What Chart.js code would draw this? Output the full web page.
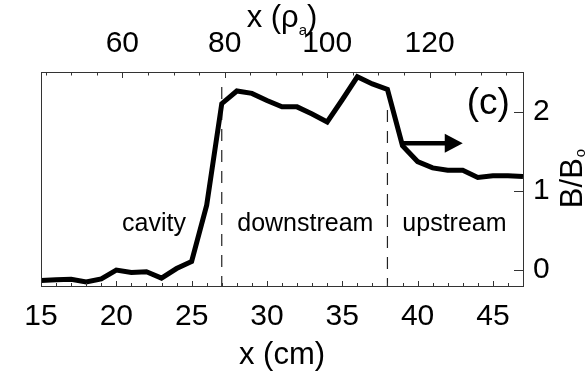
<!DOCTYPE html>
<html>
<head>
<meta charset="utf-8">
<script src="https://cdn.jsdelivr.net/npm/chart.js@4.4.1/dist/chart.umd.min.js"></script>
<style>
  html, body { margin: 0; padding: 0; background: #fff; }
  #wrap { width: 588px; height: 372px; }
</style>
</head>
<body>
<div id="wrap"><canvas id="fieldChart" width="588" height="372"></canvas></div>
<script>
// Position along the device (cm) and normalised field B/B0
const xCm = [15, 16, 17, 18, 19, 20, 21, 22, 23, 24, 25, 26, 27, 28, 29, 30, 31,
             32, 33, 34, 35, 36, 37, 38, 39, 40, 41, 42, 43, 44, 45, 46, 47];
const bRatio = [-0.13, -0.12, -0.115, -0.15, -0.11, 0.0, -0.03, -0.02, -0.1, 0.02, 0.11,
                0.82, 2.10, 2.26, 2.23, 2.14, 2.06, 2.06, 1.97, 1.87, 2.15, 2.44, 2.35,
                2.28, 1.57, 1.37, 1.29, 1.26, 1.26, 1.17, 1.19, 1.19, 1.18];

// Region boundaries (cm) and where each dashed divider starts (B/B0)
const boundaryX = [27, 38];
const boundaryTop = [2.31, 2.02];

// Region names with their label positions (cm, B/B0 baseline)
const regionNames = ['cavity', 'downstream', 'upstream'];
const regionLabelX = [22.5, 32.55, 42.45];
const regionLabelY = 0.49;

// Propagation arrow (cm) at a fixed B/B0
const arrowX = [39, 43];
const arrowY = 1.6;

// Ion gyroradius in cm, used for the upper axis
const rhoA = 0.34;
const xMin = 15, xMax = 47;
const yMin = -0.2, yMax = 2.5;

const FONT = 'Liberation Sans, Arial, Helvetica, sans-serif';
const frameColor = '#333';

// Frame, inward ticks and the extra text on the plot
const decorations = {
    id: 'decorations',
    afterDatasetsDraw(chart) {
        const { ctx, chartArea: a, scales } = chart;
        ctx.save();

        // arrow
        const ax0 = scales.x.getPixelForValue(arrowX[0]);
        const ax1 = scales.x.getPixelForValue(arrowX[1]);
        const ay = scales.y.getPixelForValue(arrowY);
        const head = 18;
        ctx.strokeStyle = '#000';
        ctx.lineWidth = 4.5;
        ctx.beginPath();
        ctx.moveTo(ax0, ay);
        ctx.lineTo(ax1 - head + 2, ay);
        ctx.stroke();
        ctx.fillStyle = '#000';
        ctx.beginPath();
        ctx.moveTo(ax1, ay);
        ctx.lineTo(ax1 - head, ay - 9.5);
        ctx.lineTo(ax1 - head, ay + 9.5);
        ctx.closePath();
        ctx.fill();

        // frame
        ctx.strokeStyle = frameColor;
        ctx.lineWidth = 1;
        ctx.strokeRect(Math.round(a.left) + 0.5, Math.round(a.top) + 0.5,
                       Math.round(a.right - a.left), Math.round(a.bottom - a.top));

        // ticks pointing into the plot
        ctx.beginPath();
        scales.x.ticks.forEach(t => {
            const px = Math.round(scales.x.getPixelForValue(t.value)) + 0.5;
            const len = t.value % 5 === 0 ? 5 : 3;
            ctx.moveTo(px, a.bottom);
            ctx.lineTo(px, a.bottom - len);
        });
        scales.xTop.ticks.forEach(t => {
            const px = Math.round(scales.xTop.getPixelForValue(t.value)) + 0.5;
            const len = t.value % 20 === 0 ? 6 : 3.5;
            ctx.moveTo(px, a.top);
            ctx.lineTo(px, a.top + len);
        });
        scales.y.ticks.forEach(t => {
            const py = Math.round(scales.y.getPixelForValue(t.value)) + 0.5;
            ctx.moveTo(a.right, py);
            ctx.lineTo(a.right - 9, py);
        });
        ctx.stroke();

        // region labels
        ctx.fillStyle = '#000';
        ctx.font = '25px ' + FONT;
        ctx.textAlign = 'center';
        ctx.textBaseline = 'alphabetic';
        regionNames.forEach((name, i) => {
            ctx.fillText(name, scales.x.getPixelForValue(regionLabelX[i]),
                         scales.y.getPixelForValue(regionLabelY));
        });

        // panel tag
        ctx.font = '37px ' + FONT;
        ctx.fillText('(c)', scales.x.getPixelForValue(44.69), scales.y.getPixelForValue(1.97));

        // upper axis title: x (rho_a)
        const cx = (a.left + a.right) / 2;
        ctx.textAlign = 'left';
        ctx.font = '31px ' + FONT;
        const p1 = 'x (ρ', p3 = ')';
        const w1 = ctx.measureText(p1).width;
        const w3 = ctx.measureText(p3).width;
        ctx.font = '15px ' + FONT;
        const w2 = ctx.measureText('a').width;
        let tx = cx - (w1 + w2 + w3) / 2;
        ctx.font = '31px ' + FONT;
        ctx.fillText(p1, tx, 27);
        ctx.font = '15px ' + FONT;
        ctx.fillText('a', tx + w1, 35);
        ctx.font = '31px ' + FONT;
        ctx.fillText(p3, tx + w1 + w2, 27);

        // right axis title: B/B0, read bottom to top
        const cy = (a.top + a.bottom) / 2;
        ctx.translate(582, cy);
        ctx.rotate(-Math.PI / 2);
        ctx.font = '31px ' + FONT;
        const wb = ctx.measureText('B/B').width;
        ctx.font = '15px ' + FONT;
        const wo = ctx.measureText('o').width;
        const bx = -(wb + wo) / 2;
        ctx.font = '31px ' + FONT;
        ctx.fillText('B/B', bx, 0);
        ctx.font = '15px ' + FONT;
        ctx.fillText('o', bx + wb + 1, 3);

        ctx.restore();
    }
};

function initializeFieldChart() {
    const ctx = document.getElementById('fieldChart');
    if (!ctx) return;

    const profile = xCm.map((x, i) => ({ x: x, y: bRatio[i] }));
    const dividers = boundaryX.map((bx, i) => ({
        data: [{ x: bx, y: boundaryTop[i] }, { x: bx, y: yMin }],
        borderColor: '#222',
        borderWidth: 1.2,
        borderDash: [12, 9],
        pointRadius: 0,
        fill: false
    }));

    const chart = new Chart(ctx, {
        type: 'line',
        data: {
            datasets: [{
                label: 'B/B0',
                data: profile,
                borderColor: '#000',
                borderWidth: 5,
                pointRadius: 0,
                tension: 0,
                fill: false
            }].concat(dividers)
        },
        options: {
            responsive: false,
            animation: false,
            layout: { padding: { left: 41, right: 0, top: 0, bottom: 0 } },
            plugins: {
                legend: { display: false },
                tooltip: { enabled: false }
            },
            scales: {
                x: {
                    type: 'linear',
                    position: 'bottom',
                    min: xMin,
                    max: xMax,
                    grid: { display: false, drawTicks: false },
                    border: { display: false },
                    ticks: {
                        stepSize: 1,
                        autoSkip: false,
                        maxRotation: 0,
                        includeBounds: false,
                        padding: 13,
                        color: '#000',
                        font: { family: FONT, size: 30 },
                        callback: v => (v % 5 === 0 ? v : '')
                    },
                    title: {
                        display: true,
                        text: 'x (cm)',
                        color: '#000',
                        font: { family: FONT, size: 31, lineHeight: 1 },
                        padding: { top: 0, bottom: 1 }
                    },
                    afterFit: s => { s.height = 86; }
                },
                xTop: {
                    type: 'linear',
                    position: 'top',
                    min: xMin / rhoA,
                    max: xMax / rhoA,
                    grid: { display: false, drawTicks: false },
                    border: { display: false },
                    ticks: {
                        stepSize: 5,
                        autoSkip: false,
                        maxRotation: 0,
                        includeBounds: false,
                        padding: 10,
                        color: '#000',
                        font: { family: FONT, size: 30 },
                        callback: v => (v % 20 === 0 ? v : '')
                    },
                    afterFit: s => { s.height = 72; }
                },
                y: {
                    type: 'linear',
                    position: 'right',
                    min: yMin,
                    max: yMax,
                    grid: { display: false, drawTicks: false },
                    border: { display: false },
                    ticks: {
                        stepSize: 1,
                        includeBounds: false,
                        padding: 10,
                        color: '#000',
                        font: { family: FONT, size: 30 }
                    },
                    afterFit: s => { s.width = 65; }
                }
            }
        },
        plugins: [decorations]
    });
}

initializeFieldChart();
</script>
</body>
</html>
